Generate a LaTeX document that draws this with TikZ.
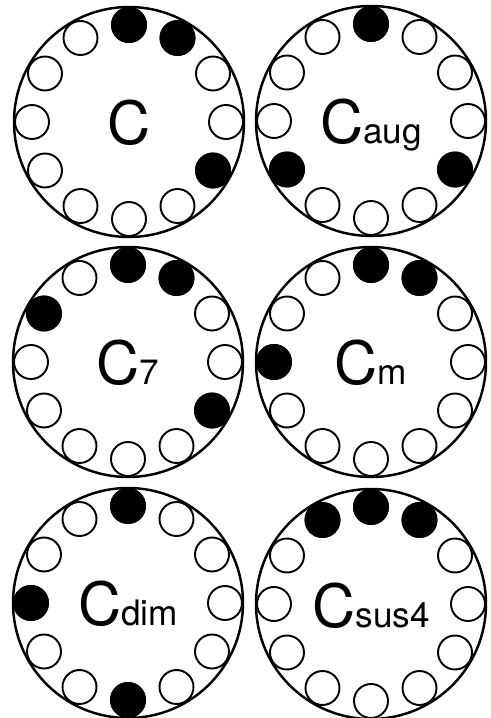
\documentclass[tikz,border=0pt]{standalone}
\usepackage{fontspec}
\setmainfont{TeX Gyre Heros}
\usepackage{tikz}
\usetikzlibrary{calc}

% 和弦名的小字
\newcommand{\chordsub}[1]{{\fontsize{20}{20}\selectfont #1}}

\tikzset{
    dial/.style={line width=1.4pt},
    tone/.style={line width=1.1pt, fill=white},
    toneon/.style={line width=1.1pt, fill=black},
    chordname/.style={anchor=base, inner sep=0pt, font=\fontsize{34}{34}\selectfont}
}

\begin{document}
\begin{tikzpicture}[x=0.02cm, y=0.02cm]
    \useasboundingbox (0,0) rectangle (491,718);

    % 六个五度圈: 编号/圆心x/圆心y/名称/按下的音
    \foreach \n/\cx/\cy/\sub/\on in {
        1/129/596/{}/{0,1,4},
        2/371/597/{aug}/{0,4,8},
        3/128/356/{7}/{0,1,4,10},
        4/371/356/{m}/{0,1,9},
        5/128/115/{dim}/{0,6,9},
        6/371/114/{sus4}/{11,0,1}} {
        \coordinate (O\n) at (\cx,\cy);
        \draw[dial] (O\n) circle (115);
        % 一圈十二个音
        \foreach \k in {0,...,11} {
            \draw[tone] (O\n) ++(90-30*\k:97) circle (17);
        }
        % 涂黑和弦音
        \foreach \k in \on {
            \draw[toneon] (O\n) ++(90-30*\k:97) circle (17);
        }
        \node[chordname] (name\n) at ($(O\n)+(0,-23)$) {C\chordsub{\sub}};
    }
\end{tikzpicture}
\end{document}
